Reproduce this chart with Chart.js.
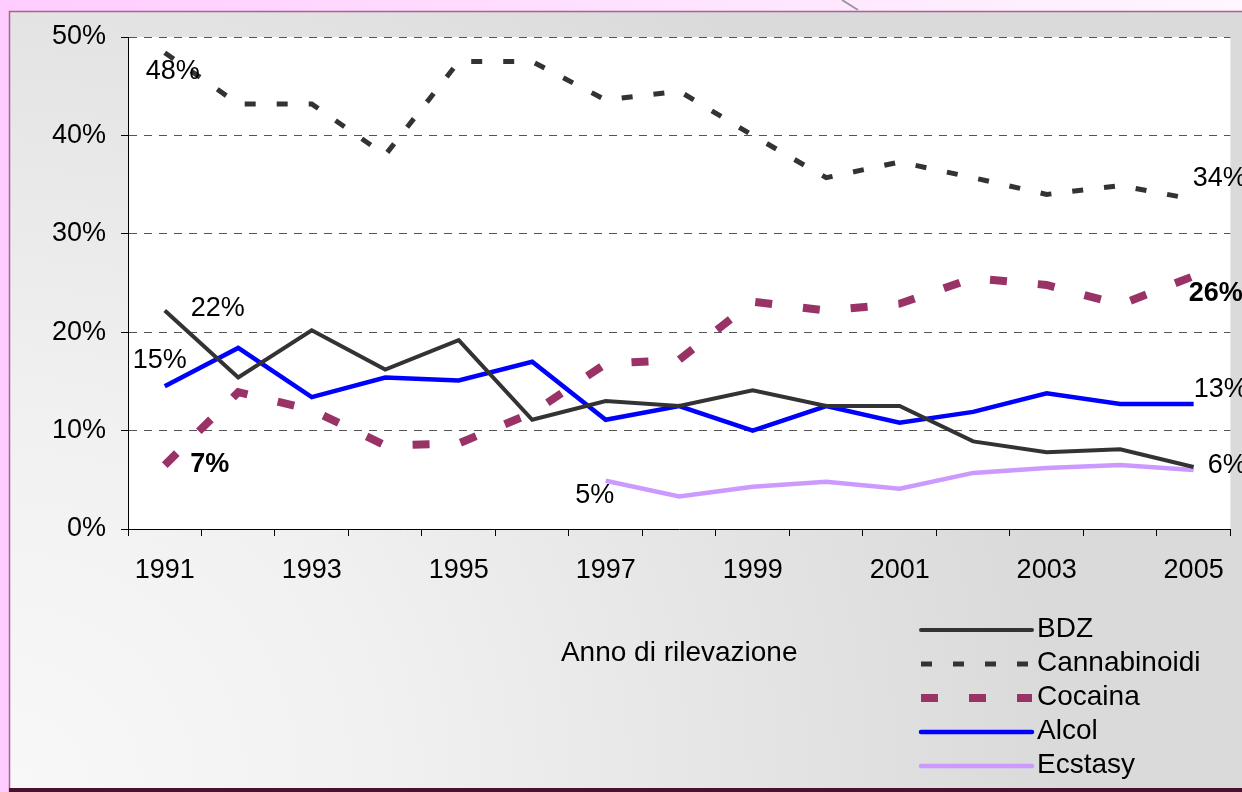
<!DOCTYPE html>
<html>
<head>
<meta charset="utf-8">
<script src="https://cdn.jsdelivr.net/npm/chart.js@4"></script>
<style>
    body { margin: 0; background: #fff; }
    #contenitore { width: 1242px; height: 792px; }
</style>
</head>
<body>
<div id="contenitore"><canvas id="grafico" width="1242" height="792"></canvas></div>
<script>
const anni = ['1991', '1992', '1993', '1994', '1995', '1996', '1997', '1998', '1999', '2000', '2001', '2002', '2003', '2004', '2005'];
const bdz = [22.2, 15.4, 20.2, 16.2, 19.2, 11.1, 13.0, 12.5, 14.1, 12.5, 12.5, 8.9, 7.8, 8.1, 6.3];
const cannabinoidi = [48.4, 43.2, 43.2, 38.0, 47.5, 47.5, 43.6, 44.5, 40.0, 35.7, 37.3, 35.7, 34.0, 34.9, 33.5];
const cocaina = [6.5, 13.9, 12.1, 8.5, 8.7, 11.8, 16.8, 17.2, 23.1, 22.2, 22.9, 25.5, 24.8, 22.8, 25.7];
const alcol = [14.5, 18.4, 13.4, 15.4, 15.1, 17.0, 11.1, 12.5, 10.0, 12.5, 10.8, 11.9, 13.8, 12.7, 12.7];
const ecstasy = [null, null, null, null, null, null, 4.9, 3.3, 4.3, 4.8, 4.1, 5.7, 6.2, 6.5, 6.0];
const tickY = [0, 10, 20, 30, 40, 50];

const FONT = "'Liberation Sans', Arial, sans-serif";

// etichette vicino ai punti: serie, indice del punto, spostamento
const etichette = [
    { serie: 1, idx: 0, dx: 8, dy: 19, align: 'center' },
    { serie: 0, idx: 0, dx: 53, dy: -2, align: 'center' },
    { serie: 3, idx: 0, dx: -5, dy: -26, align: 'center' },
    { serie: 2, idx: 0, dx: 45, dy: 0, align: 'center', bold: true },
    { serie: 4, idx: 6, dx: -11, dy: 15, align: 'center' },
    { serie: 1, idx: 14, dx: -1, dy: -21, align: 'left' },
    { serie: 2, idx: 14, dx: -5, dy: 17, align: 'left', bold: true },
    { serie: 3, idx: 14, dx: 0, dy: -14, align: 'left' },
    { serie: 0, idx: 14, dx: 14, dy: -1, align: 'left' }
];

const sfondo = {
    id: 'sfondo',
    beforeDraw(chart) {
        const ctx = chart.ctx;
        const a = chart.chartArea;
        ctx.save();
        const rosa = ctx.createLinearGradient(0, 0, 1242, 0);
        rosa.addColorStop(0, '#ffccff');
        rosa.addColorStop(1, '#fff6ff');
        ctx.fillStyle = rosa;
        ctx.fillRect(0, 0, 1242, 792);
        const grigio = ctx.createRadialGradient(10, 790, 0, 10, 790, 1050);
        grigio.addColorStop(0, '#f8f8f8');
        grigio.addColorStop(0.35, '#f1f1f1');
        grigio.addColorStop(1, '#dadada');
        ctx.fillStyle = grigio;
        ctx.fillRect(9, 11, 1233, 778);
        ctx.strokeStyle = '#b0608f';
        ctx.lineWidth = 1.5;
        ctx.beginPath();
        ctx.moveTo(9.5, 792);
        ctx.lineTo(9.5, 11.5);
        ctx.lineTo(1242, 11.5);
        ctx.stroke();
        ctx.fillStyle = '#4a1030';
        ctx.fillRect(9, 788, 1233, 4);
        ctx.strokeStyle = '#999';
        ctx.lineWidth = 2;
        ctx.beginPath();
        ctx.moveTo(842, 0);
        ctx.lineTo(858, 10);
        ctx.stroke();
        ctx.fillStyle = '#fff';
        ctx.fillRect(a.left, a.top, a.right - a.left, a.bottom - a.top);
        ctx.restore();
    }
};

const testi = {
    id: 'testi',
    afterDraw(chart) {
        const ctx = chart.ctx;
        ctx.save();
        ctx.fillStyle = '#000';
        ctx.textBaseline = 'middle';
        etichette.forEach(e => {
            const p = chart.getDatasetMeta(e.serie).data[e.idx];
            const v = chart.data.datasets[e.serie].data[e.idx];
            ctx.font = (e.bold ? 'bold ' : '') + '27px ' + FONT;
            ctx.textAlign = e.align;
            ctx.fillText(Math.round(v) + '%', p.x + e.dx, p.y + e.dy);
        });

        // legenda in basso a destra
        chart.data.datasets.forEach((ds, i) => {
            const y = 630 + i * 34;
            ctx.save();
            ctx.strokeStyle = ds.borderColor;
            ctx.lineWidth = ds.borderWidth;
            ctx.lineCap = ds.borderDash.length ? 'butt' : 'round';
            ctx.setLineDash(ds.borderDash);
            ctx.beginPath();
            ctx.moveTo(921, y);
            ctx.lineTo(1032, y);
            ctx.stroke();
            ctx.restore();
            ctx.font = '28px ' + FONT;
            ctx.textAlign = 'left';
            ctx.fillText(ds.label, 1037, y - 1);
        });
        ctx.restore();
    }
};

new Chart(document.getElementById('grafico'), {
    type: 'line',
    data: {
        labels: anni,
        datasets: [
            { label: 'BDZ', data: bdz, borderColor: '#333333', borderWidth: 4, borderDash: [] },
            { label: 'Cannabinoidi', data: cannabinoidi, borderColor: '#333333', borderWidth: 5, borderDash: [11, 21] },
            { label: 'Cocaina', data: cocaina, borderColor: '#993366', borderWidth: 8, borderDash: [17, 31] },
            { label: 'Alcol', data: alcol, borderColor: '#0000ff', borderWidth: 4.5, borderDash: [] },
            { label: 'Ecstasy', data: ecstasy, borderColor: '#cc99ff', borderWidth: 4.5, borderDash: [] }
        ]
    },
    options: {
        responsive: false,
        animation: false,
        events: [],
        layout: { padding: { top: 37, right: 10, bottom: 0, left: 0 } },
        elements: {
            point: { radius: 0 },
            line: { tension: 0, fill: false, borderCapStyle: 'butt', borderJoinStyle: 'miter' }
        },
        plugins: {
            legend: { display: false },
            tooltip: { enabled: false }
        },
        scales: {
            x: {
                type: 'category',
                offset: true,
                afterFit(scale) { scale.height = 263; },
                grid: { display: true, offset: true, drawOnChartArea: false, color: '#000', tickColor: '#000', tickLength: 7 },
                border: { display: true, color: '#000', width: 1 },
                ticks: {
                    autoSkip: false,
                    maxRotation: 0,
                    padding: 18,
                    color: '#000',
                    font: { family: FONT, size: 27 },
                    callback: (val, idx) => idx % 2 === 0 ? anni[idx] : ''
                },
                title: {
                    display: true,
                    text: 'Anno di rilevazione',
                    color: '#000',
                    font: { family: FONT, size: 28 },
                    padding: { top: 0, bottom: 122 }
                }
            },
            y: {
                min: 0,
                max: 50,
                afterFit(scale) { scale.width = 128; },
                afterBuildTicks(scale) { scale.ticks = tickY.map(v => ({ value: v })); },
                grid: { color: '#555', tickColor: '#000', tickLength: 7, lineWidth: 1 },
                border: { display: true, color: '#000', width: 1, dash: [8, 7] },
                ticks: {
                    padding: 15,
                    color: '#000',
                    font: { family: FONT, size: 27 },
                    callback: v => v + '%'
                }
            }
        }
    },
    plugins: [sfondo, testi]
});
</script>
</body>
</html>
